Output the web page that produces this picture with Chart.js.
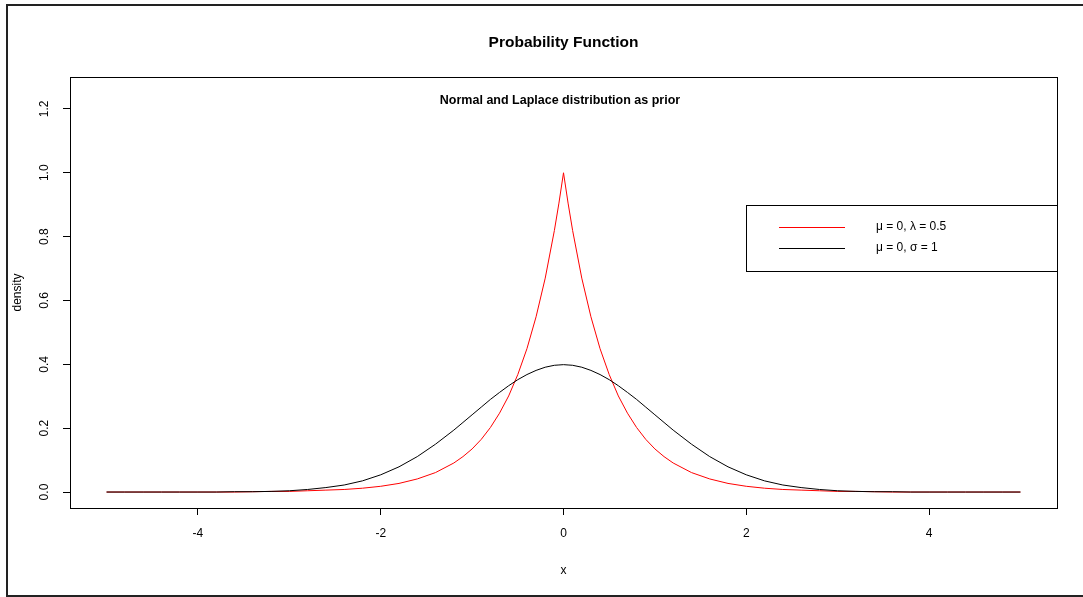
<!DOCTYPE html>
<html>
<head>
<meta charset="utf-8">
<title>Probability Function</title>
<script src="https://cdn.jsdelivr.net/npm/chart.js@4/dist/chart.umd.min.js"></script>
<style>
  body { margin: 0; background: #fff; }
  #plot { display: block; }
</style>
</head>
<body>
<canvas id="plot" width="1083" height="597"></canvas>
<script>
// values (finer near the peak)
var xs = [-5, -4.8, -4.6, -4.4, -4.2, -4, -3.8, -3.6, -3.4, -3.2, -3, -2.8, -2.6, -2.4, -2.2, -2, -1.8, -1.6, -1.4, -1.2,
          -1.1, -1, -0.9, -0.8, -0.7, -0.6, -0.5, -0.4, -0.3, -0.2, -0.1, -0.05, 0, 0.05, 0.1, 0.2, 0.3, 0.4, 0.5, 0.6, 0.7, 0.8, 0.9, 1, 1.1,
          1.2, 1.4, 1.6, 1.8, 2, 2.2, 2.4, 2.6, 2.8, 3, 3.2, 3.4, 3.6, 3.8, 4, 4.2, 4.4, 4.6, 4.8, 5];
var laplace = [0, 0, 0, 0, 0, 0, 0, 0, 0.001, 0.002, 0.002, 0.004, 0.006, 0.008, 0.012, 0.018, 0.027, 0.041, 0.061, 0.091,
               0.111, 0.135, 0.165, 0.202, 0.247, 0.301, 0.368, 0.449, 0.549, 0.670, 0.819, 0.905, 1.0, 0.905, 0.819, 0.670, 0.549, 0.449, 0.368, 0.301, 0.247, 0.202, 0.165, 0.135, 0.111,
               0.091, 0.061, 0.041, 0.027, 0.018, 0.012, 0.008, 0.006, 0.004, 0.002, 0.002, 0.001, 0, 0, 0, 0, 0, 0, 0, 0];
var normal = [0, 0, 0, 0, 0, 0, 0, 0.001, 0.001, 0.002, 0.004, 0.008, 0.014, 0.022, 0.035, 0.054, 0.079, 0.111, 0.150, 0.194,
              0.218, 0.242, 0.266, 0.290, 0.312, 0.333, 0.352, 0.368, 0.381, 0.391, 0.397, 0.398, 0.399, 0.398, 0.397, 0.391, 0.381, 0.368, 0.352, 0.333, 0.312, 0.290, 0.266, 0.242, 0.218,
              0.194, 0.150, 0.111, 0.079, 0.054, 0.035, 0.022, 0.014, 0.008, 0.004, 0.002, 0.001, 0.001, 0, 0, 0, 0, 0, 0, 0];
var xTicks = [-4, -2, 0, 2, 4];
var yTicks = [0, 0.2, 0.4, 0.6, 0.8, 1.0, 1.2];
var legendLabels = ['\u03bc = 0, \u03bb = 0.5', '\u03bc = 0, \u03c3 = 1'];

function pts(ys) {
  return xs.map(function (x, i) { return { x: x, y: ys[i] }; });
}

var FONT = '"Liberation Sans", Arial, sans-serif';

// R-style decorations: frame, box, titles, rotated y labels, legend
var rDecor = {
  id: 'rDecor',
  afterDraw: function (chart) {
    var ctx = chart.ctx, a = chart.chartArea;
    var ys = chart.scales.y;
    ctx.save();
    // outer frame
    ctx.strokeStyle = '#222';
    ctx.lineWidth = 2;
    ctx.beginPath();
    ctx.moveTo(1083, 5); ctx.lineTo(7, 5); ctx.lineTo(7, 596); ctx.lineTo(1083, 596);
    ctx.stroke();
    // plot box
    ctx.strokeStyle = '#000';
    ctx.lineWidth = 1;
    ctx.strokeRect(Math.round(a.left) + 0.5, Math.round(a.top) + 0.5, Math.round(a.right - a.left), Math.round(a.bottom - a.top));

    ctx.fillStyle = '#000';
    ctx.textAlign = 'center';
    ctx.textBaseline = 'middle';
    ctx.font = 'bold 15.5px ' + FONT;
    ctx.fillText('Probability Function', (a.left + a.right) / 2, 43);
    ctx.font = 'bold 12.5px ' + FONT;
    ctx.fillText('Normal and Laplace distribution as prior', 560, 101);
    ctx.font = '12px ' + FONT;
    ctx.fillText('x', (a.left + a.right) / 2, 571);

    // y labels, rotated like R
    yTicks.forEach(function (v) {
      var py = ys.getPixelForValue(v);
      ctx.save();
      ctx.translate(45, py);
      ctx.rotate(-Math.PI / 2);
      ctx.fillText(v.toFixed(1), 0, 0);
      ctx.restore();
    });
    ctx.save();
    ctx.translate(18, (a.top + a.bottom) / 2);
    ctx.rotate(-Math.PI / 2);
    ctx.fillText('density', 0, 0);
    ctx.restore();

    // legend
    ctx.strokeRect(746.5, 205.5, a.right - 746, 66);
    var cols = ['#ff0000', '#000000'];
    var rows = [227, 248];
    rows.forEach(function (y, i) {
      ctx.strokeStyle = cols[i];
      ctx.beginPath();
      ctx.moveTo(779, y + 0.5); ctx.lineTo(845, y + 0.5);
      ctx.stroke();
      ctx.textAlign = 'left';
      ctx.fillText(legendLabels[i], 876, y);
    });
    ctx.restore();
  }
};

new Chart(document.getElementById('plot'), {
  type: 'line',
  data: {
    datasets: [{
      label: legendLabels[0],
      data: pts(laplace),
      borderColor: '#ff0000',
      borderWidth: 1,
      pointRadius: 0,
      tension: 0,
      order: 2
    }, {
      label: legendLabels[1],
      data: pts(normal),
      borderColor: '#000000',
      borderWidth: 1,
      pointRadius: 0,
      tension: 0,
      order: 1
    }]
  },
  options: {
    responsive: false,
    animation: false,
    devicePixelRatio: 1,
    layout: { padding: { left: 0, top: 77, right: 26, bottom: 0 } },
    plugins: { legend: { display: false }, tooltip: { enabled: false } },
    scales: {
      x: {
        type: 'linear',
        min: -5.4,
        max: 5.4,
        afterBuildTicks: function (s) { s.ticks = xTicks.map(function (v) { return { value: v }; }); },
        afterFit: function (s) { s.height = 89; },
        border: { display: false },
        grid: { drawOnChartArea: false, tickLength: 7, color: '#000' },
        ticks: { color: '#000', font: { family: FONT, size: 12 }, padding: 11, maxRotation: 0, autoSkip: false,
                 callback: function (v) { return String(v); } }
      },
      y: {
        type: 'linear',
        min: -0.05,
        max: 1.3,
        afterBuildTicks: function (s) { s.ticks = yTicks.map(function (v) { return { value: v }; }); },
        afterFit: function (s) { s.width = 70; },
        border: { display: false },
        grid: { drawOnChartArea: false, tickLength: 7, color: '#000' },
        ticks: { display: false }
      }
    }
  },
  plugins: [rDecor]
});
</script>
</body>
</html>
